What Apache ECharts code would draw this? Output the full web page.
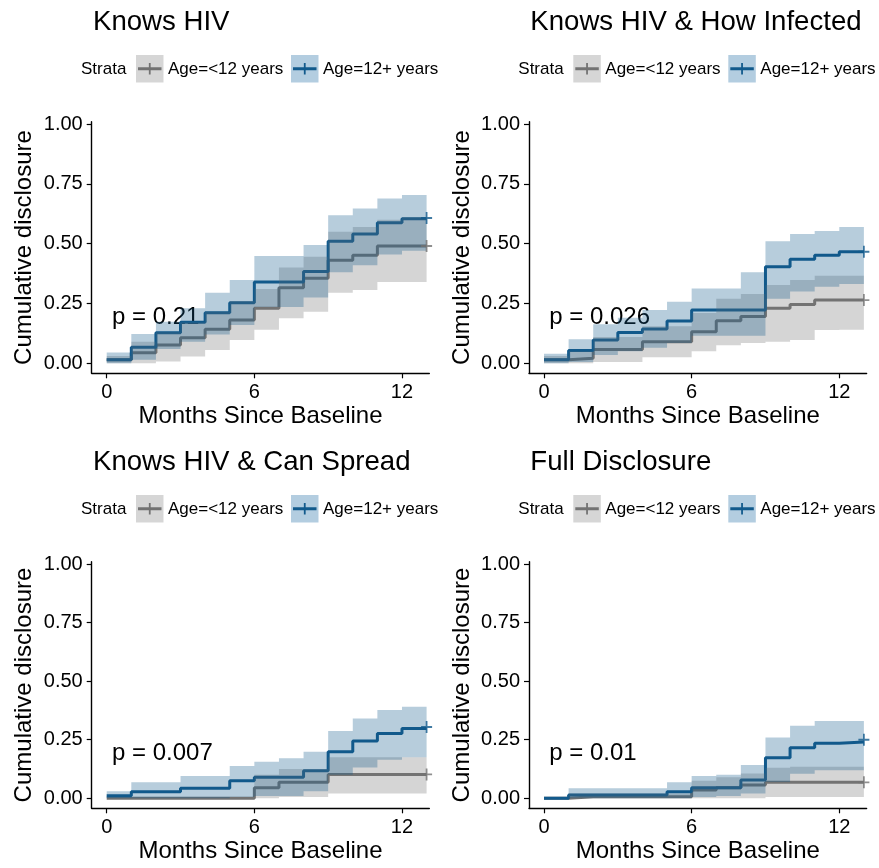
<!DOCTYPE html>
<html><head><meta charset="utf-8">
<script src="https://cdn.jsdelivr.net/npm/echarts@6/dist/echarts.min.js"></script>
<style>html,body{margin:0;padding:0;background:#fff}#c{width:879px;height:868px}</style>
</head><body><div id="c"></div><script>
// ---- data ----
const months = [0,1,2,3,4,5,6,7,8,9,10,11,12];
const endMonth = 13;
const xTicks = [0, 6, 12];
const yTicks = [0, 0.25, 0.5, 0.75, 1];
const panelTitles = ['Knows HIV', 'Knows HIV & How Infected', 'Knows HIV & Can Spread', 'Full Disclosure'];
const pValues = ['p = 0.21', 'p = 0.026', 'p = 0.007', 'p = 0.01'];
const strataNames = ['Age=<12 years', 'Age=12+ years'];

// Panel 1: Knows HIV
const knowsYoung     = [0.015,0.044,0.076,0.107,0.142,0.181,0.23,0.316,0.355,0.431,0.452,0.49,0.49];
const knowsYoungLow  = [0,0,0.007,0.028,0.055,0.097,0.14,0.188,0.215,0.295,0.306,0.34,0.34];
const knowsYoungHigh = [0.03,0.09,0.13,0.17,0.215,0.26,0.31,0.40,0.445,0.55,0.57,0.60,0.61];
const knowsOld       = [0.015,0.067,0.128,0.171,0.211,0.253,0.34,0.34,0.384,0.51,0.54,0.587,0.604];
const knowsOldLow    = [0,0.015,0.06,0.09,0.12,0.16,0.235,0.235,0.275,0.38,0.41,0.455,0.47];
const knowsOldHigh   = [0.045,0.122,0.174,0.23,0.295,0.348,0.448,0.448,0.494,0.619,0.647,0.689,0.703];

// Panel 2: Knows HIV & How Infected
const howYoung     = [0.015,0.021,0.058,0.058,0.09,0.09,0.132,0.178,0.195,0.23,0.246,0.264,0.264];
const howYoungLow  = [0,0,0.005,0.005,0.025,0.025,0.05,0.075,0.085,0.09,0.097,0.139,0.14];
const howYoungHigh = [0.03,0.05,0.11,0.11,0.155,0.155,0.21,0.27,0.29,0.327,0.348,0.366,0.366];
const howOld       = [0.015,0.053,0.097,0.129,0.143,0.177,0.223,0.223,0.223,0.403,0.435,0.452,0.466];
const howOldLow    = [0,0.005,0.035,0.05,0.065,0.085,0.115,0.115,0.115,0.27,0.30,0.32,0.331];
const howOldHigh   = [0.04,0.10,0.163,0.19,0.223,0.257,0.313,0.313,0.38,0.51,0.54,0.553,0.57];

// Panel 3: Knows HIV & Can Spread
const spreadYoung     = [0,0,0,0,0,0,0.045,0.068,0.068,0.102,0.102,0.102,0.102];
const spreadYoungLow  = [0,0,0,0,0,0,0,0.005,0.005,0.021,0.021,0.021,0.021];
const spreadYoungHigh = [0,0,0,0,0,0,0.1,0.125,0.125,0.175,0.175,0.175,0.175];
const spreadOld       = [0.011,0.028,0.028,0.043,0.043,0.075,0.09,0.09,0.118,0.199,0.245,0.277,0.298];
const spreadOldLow    = [0,0,0,0,0,0.005,0.01,0.01,0.03,0.10,0.131,0.165,0.175];
const spreadOldHigh   = [0.03,0.068,0.068,0.095,0.095,0.138,0.156,0.171,0.199,0.287,0.341,0.377,0.391];

// Panel 4: Full Disclosure
const fullYoung     = [0,0.007,0.007,0.007,0.007,0.007,0.035,0.045,0.057,0.068,0.068,0.068,0.068];
const fullYoungLow  = [0,0,0,0,0,0,0,0,0,0.005,0.005,0.005,0.005];
const fullYoungHigh = [0,0.02,0.02,0.02,0.02,0.02,0.075,0.09,0.106,0.13,0.135,0.135,0.135];
const fullOld       = [0,0.014,0.014,0.014,0.014,0.028,0.045,0.045,0.078,0.173,0.216,0.235,0.24];
const fullOldLow    = [0,0,0,0,0,0,0.005,0.01,0.02,0.07,0.105,0.12,0.12];
const fullOldHigh   = [0,0.043,0.043,0.043,0.043,0.068,0.095,0.10,0.142,0.259,0.31,0.33,0.33];

// censor marks at end of follow-up
const censorYoung = [0.49, 0.264, 0.102, 0.068];
const censorOld   = [0.607, 0.466, 0.304, 0.25];

// ---- layout / style ----
const FONT = 'Liberation Sans, Arial, sans-serif';
const GRAY = '#737373', BLUE = '#125a8c';
const GRAY_FILL = 'rgba(115,115,115,0.3)', BLUE_FILL = 'rgba(18,90,140,0.3)';
const panels = [
  {young:[knowsYoung,knowsYoungLow,knowsYoungHigh], old:[knowsOld,knowsOldLow,knowsOldHigh], left:91.7, top:121.7, h:251.6, dx:0, dy:0},
  {young:[howYoung,howYoungLow,howYoungHigh], old:[howOld,howOldLow,howOldHigh], left:529, top:121.7, h:251.6, dx:437.3, dy:0},
  {young:[spreadYoung,spreadYoungLow,spreadYoungHigh], old:[spreadOld,spreadOldLow,spreadOldHigh], left:91.7, top:561.7, h:246.6, dx:0, dy:440},
  {young:[fullYoung,fullYoungLow,fullYoungHigh], old:[fullOld,fullOldLow,fullOldHigh], left:529, top:561.7, h:246.6, dx:437.3, dy:440}
];

const grid = [], xAxis = [], yAxis = [], series = [], graphic = [];
const plusPath = 'path://M0,4.2H10V5.8H0Z M4.2,0H5.8V10H4.2Z';

function stepData(vals){
  const d = months.map((m,i)=>[m, vals[i]]);
  d.push([endMonth, vals[vals.length-1]]);
  return d;
}
function bandSeries(k, lo, hi, fill){
  return {
    type:'custom', xAxisIndex:k, yAxisIndex:k, silent:true, z:3,
    data:[[0,0]],
    renderItem:function(params, api){
      const pts = [];
      for (let i=0;i<months.length;i++){
        const t1 = i+1<months.length ? months[i+1] : endMonth;
        pts.push(api.coord([months[i], hi[i]]));
        pts.push(api.coord([t1, hi[i]]));
      }
      for (let i=months.length-1;i>=0;i--){
        const t1 = i+1<months.length ? months[i+1] : endMonth;
        pts.push(api.coord([t1, lo[i]]));
        pts.push(api.coord([months[i], lo[i]]));
      }
      return {type:'polygon', shape:{points:pts}, style:{fill:fill, stroke:null}};
    }
  };
}

panels.forEach((p,k)=>{
  grid.push({left:p.left, top:p.top, width:337.6, height:p.h, containLabel:false});
  xAxis.push({
    type:'value', gridIndex:k, min:-0.61, max:13.11,
    name:'Months Since Baseline', nameLocation:'middle', nameGap:31,
    nameTextStyle:{fontSize:24, color:'#000', fontFamily:FONT},
    axisLine:{onZero:false, lineStyle:{color:'#000', width:1.4}},
    axisTick:{show:true, length:5, customValues:xTicks, lineStyle:{color:'#000', width:1.2}},
    axisLabel:{customValues:xTicks, fontSize:20, color:'#000', fontFamily:FONT, margin:9},
    splitLine:{show:false}
  });
  yAxis.push({
    type:'value', gridIndex:k, min: k<2 ? -0.042 : -0.0427, max: k<2 ? 1.01 : 1.0098,
    name:'Cumulative disclosure', nameLocation:'middle', nameGap:55, nameRotate:90,
    nameTextStyle:{fontSize:24, color:'#000', fontFamily:FONT},
    axisLine:{show:true, onZero:false, lineStyle:{color:'#000', width:1.4}},
    axisTick:{show:true, length:5, customValues:yTicks, lineStyle:{color:'#000', width:1.2}},
    axisLabel:{customValues:yTicks, fontSize:20, color:'#000', fontFamily:FONT, margin:9,
      formatter:v=>v.toFixed(2)},
    splitLine:{show:false}
  });
  series.push({type:'line', name:strataNames[0], xAxisIndex:k, yAxisIndex:k, step:'end', showSymbol:false,
    data:stepData(p.young[0]), lineStyle:{color:GRAY, width:3}, itemStyle:{color:GRAY}, z:2, silent:true});
  series.push({type:'line', name:strataNames[1], xAxisIndex:k, yAxisIndex:k, step:'end', showSymbol:false,
    data:stepData(p.old[0]), lineStyle:{color:BLUE, width:3}, itemStyle:{color:BLUE}, z:2, silent:true});
  series.push(bandSeries(k, p.young[1], p.young[2], GRAY_FILL));
  series.push(bandSeries(k, p.old[1], p.old[2], BLUE_FILL));
  series.push({type:'scatter', xAxisIndex:k, yAxisIndex:k, symbol:plusPath, symbolSize:[11,12],
    data:[[endMonth, censorYoung[k]]], itemStyle:{color:GRAY}, z:4, silent:true});
  series.push({type:'scatter', xAxisIndex:k, yAxisIndex:k, symbol:plusPath, symbolSize:[11,12],
    data:[[endMonth, censorOld[k]]], itemStyle:{color:BLUE}, z:4, silent:true});

  // title
  graphic.push({type:'text', x:93+p.dx, y:22+p.dy, style:{text:panelTitles[k], fontSize:27.6, fontFamily:FONT, fill:'#000',
    align:'left', verticalAlign:'middle', textAlign:'left', textVerticalAlign:'middle'}});
  // legend
  const lx = p.dx, ly = p.dy;
  graphic.push({type:'text', x:81+lx, y:69+ly, style:{text:'Strata', fontSize:17, fontFamily:FONT, fill:'#000',
    align:'left', verticalAlign:'middle', textAlign:'left', textVerticalAlign:'middle'}});
  [[136, 'rgb(214,214,214)', GRAY, 168],[291, 'rgb(179,205,224)', BLUE, 323]].forEach((c,j)=>{
    graphic.push({type:'rect', shape:{x:c[0]+lx, y:55+ly, width:27.5, height:27.5}, style:{fill:c[1]}});
    graphic.push({type:'line', shape:{x1:c[0]+2+lx, y1:68.75+ly, x2:c[0]+25.5+lx, y2:68.75+ly}, style:{stroke:c[2], lineWidth:3}});
    graphic.push({type:'line', shape:{x1:c[0]+13.75+lx, y1:63+ly, x2:c[0]+13.75+lx, y2:74.5+ly}, style:{stroke:c[2], lineWidth:1.8}});
    graphic.push({type:'text', x:c[3]+lx, y:69+ly, style:{text:strataNames[j], fontSize:17, fontFamily:FONT, fill:'#000',
      align:'left', verticalAlign:'middle', textAlign:'left', textVerticalAlign:'middle'}});
  });
  // p-value
  graphic.push({type:'text', x:112+p.dx, y:(k<2?317:753), style:{text:pValues[k], fontSize:24, fontFamily:FONT, fill:'#000',
    align:'left', verticalAlign:'middle', textAlign:'left', textVerticalAlign:'middle'}});
});

const chart = echarts.init(document.getElementById('c'), null, {renderer:'canvas'});
chart.setOption({
  animation:false,
  backgroundColor:'#fff',
  textStyle:{fontFamily:FONT},
  grid, xAxis, yAxis, series, graphic
});
</script></body></html>
